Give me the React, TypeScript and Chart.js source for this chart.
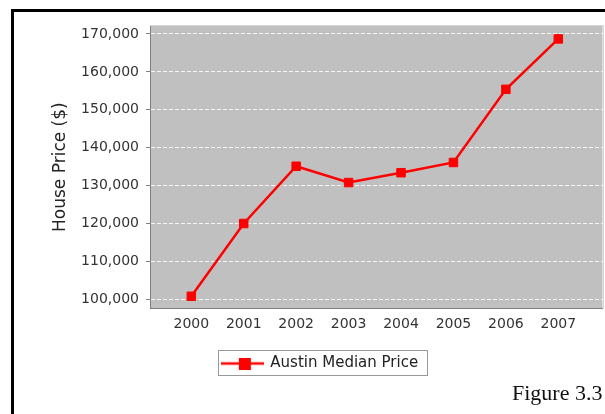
import React, { useEffect, useRef } from "react";
import { Chart, registerables } from "chart.js";

Chart.register(...registerables);

// ---- data ----
const years: number[] = [2000, 2001, 2002, 2003, 2004, 2005, 2006, 2007];
const prices: number[] = [100800, 120000, 135100, 130800, 133400, 136100, 155400, 168700];
const yTickValues: number[] = [100000, 110000, 120000, 130000, 140000, 150000, 160000, 170000];
const seriesLabel = "Austin Median Price";
const yAxisTitle = "House Price ($)";
const figureCaption = "Figure 3.3";

// axis ranges
const yMin = 97625;
const yMax = 172110;
const xMin = 1999.212;
const xMax = 2007.843;

const FONT = "'DejaVu Sans', sans-serif";

export default function App() {
  const canvasRef = useRef<HTMLCanvasElement | null>(null);

  useEffect(() => {
    const canvas = canvasRef.current;
    if (!canvas) return;

    // legend symbol: line with a square marker
    const sym = document.createElement("canvas");
    sym.width = 43;
    sym.height = 12;
    const sctx = sym.getContext("2d")!;
    sctx.strokeStyle = "#ff0000";
    sctx.lineWidth = 2.5;
    sctx.beginPath();
    sctx.moveTo(0, 6);
    sctx.lineTo(43, 6);
    sctx.stroke();
    sctx.fillStyle = "#ff0000";
    sctx.fillRect(18, 0, 12, 12);

    const plotBg = {
      id: "plotBg",
      beforeDraw(chart: any) {
        const { ctx, chartArea: a } = chart;
        ctx.save();
        ctx.fillStyle = "#c0c0c0";
        ctx.fillRect(a.left, a.top, a.right - a.left, a.bottom - a.top);
        ctx.restore();
      },
      afterDraw(chart: any) {
        const { ctx, chartArea: a } = chart;
        ctx.save();
        ctx.strokeStyle = "#d6d6d6";
        ctx.lineWidth = 1;
        ctx.beginPath();
        ctx.moveTo(a.left, Math.round(a.top) - 0.5);
        ctx.lineTo(Math.round(a.right) + 0.5, Math.round(a.top) - 0.5);
        ctx.lineTo(Math.round(a.right) + 0.5, a.bottom);
        ctx.stroke();
        ctx.restore();
      },
    };

    const legendBox = {
      id: "legendBox",
      afterDraw(chart: any) {
        const lg = chart.legend;
        if (!lg || !lg.legendHitBoxes || !lg.legendHitBoxes.length) return;
        const hb = lg.legendHitBoxes[0];
        const { ctx } = chart;
        const x0 = Math.round(hb.left - 3.5) + 0.5;
        const x1 = Math.round(hb.left + hb.width + 8.5) + 0.5;
        const y0 = Math.round(hb.top - 6) + 0.5;
        const y1 = Math.round(hb.top + hb.height + 4) + 0.5;
        ctx.save();
        ctx.strokeStyle = "#999999";
        ctx.lineWidth = 1;
        ctx.strokeRect(x0, y0, x1 - x0, y1 - y0);
        ctx.restore();
      },
    };

    const chart = new Chart(canvas, {
      type: "line",
      data: {
        datasets: [
          {
            label: seriesLabel,
            data: years.map((yr, i) => ({ x: yr, y: prices[i] })),
            borderColor: "#ff0000",
            backgroundColor: "#ff0000",
            borderWidth: 2.5,
            pointStyle: "rect",
            pointRadius: 6,
            pointBorderWidth: 1,
            pointBackgroundColor: "#ff0000",
            pointBorderColor: "#ff0000",
            tension: 0,
            fill: false,
            clip: false,
          },
        ],
      },
      options: {
        responsive: false,
        animation: false,
        devicePixelRatio: 1,
        layout: {
          autoPadding: false,
          padding: { left: 37.5, right: 2.5, top: 26, bottom: 33 },
        },
        plugins: {
          tooltip: { enabled: false },
          title: { display: false },
          legend: {
            display: true,
            position: "bottom",
            labels: {
              usePointStyle: true,
              pointStyleWidth: 41,
              color: "#222222",
              font: { family: FONT, size: 15 },
              generateLabels: (ch: any) =>
                ch.data.datasets.map((ds: any, i: number) => ({
                  text: ds.label,
                  pointStyle: sym,
                  fillStyle: "#ff0000",
                  strokeStyle: "#ff0000",
                  lineWidth: 0,
                  hidden: false,
                  datasetIndex: i,
                  fontColor: "#222222",
                })),
            },
          },
        },
        scales: {
          x: {
            type: "linear",
            min: xMin,
            max: xMax,
            afterFit: (s: any) => {
              s.height = 37.7;
              s.paddingLeft = 0;
              s.paddingRight = 0;
            },
            afterBuildTicks: (s: any) => {
              s.ticks = years.map((v) => ({ value: v }));
            },
            grid: { display: false, drawTicks: false },
            border: { display: true, color: "#808080", width: 1 },
            ticks: {
              autoSkip: false,
              maxRotation: 0,
              padding: 8,
              color: "#333333",
              font: { family: FONT, size: 14 },
              callback: (v: any) => String(v),
            },
          },
          y: {
            type: "linear",
            min: yMin,
            max: yMax,
            afterFit: (s: any) => {
              s.width = 112.5;
              s.paddingTop = 0;
              s.paddingBottom = 0;
            },
            afterBuildTicks: (s: any) => {
              s.ticks = yTickValues.map((v) => ({ value: v }));
            },
            title: {
              display: true,
              text: yAxisTitle,
              color: "#222222",
              font: { family: FONT, size: 17, lineHeight: 1 },
              padding: { top: 14.7, bottom: 0 },
            },
            grid: {
              color: "rgba(255,255,255,0.85)",
              lineWidth: 1,
              drawTicks: true,
              tickLength: 4,
              tickColor: "#808080",
              tickBorderDash: [],
            },
            border: { display: true, color: "#808080", width: 1, dash: [4, 2] },
            ticks: {
              autoSkip: false,
              padding: 7,
              color: "#333333",
              font: { family: FONT, size: 14 },
              callback: (v: any) => Number(v).toLocaleString("en-US"),
            },
          },
        },
      },
      plugins: [plotBg, legendBox],
    } as any);

    return () => chart.destroy();
  }, []);

  return (
    <div
      style={{
        position: "fixed",
        left: 0,
        top: 0,
        width: 605,
        height: 414,
        background: "#ffffff",
        overflow: "hidden",
      }}
    >
      <div
        style={{
          position: "absolute",
          left: 11,
          top: 9,
          width: 594,
          height: 405,
          borderLeft: "3px solid #000",
          borderTop: "3px solid #000",
          boxSizing: "border-box",
        }}
      />
      <canvas
        ref={canvasRef}
        width={605}
        height={414}
        style={{ position: "absolute", left: 0, top: 0, width: 605, height: 414 }}
      />
      <div
        style={{
          position: "absolute",
          left: 512,
          top: 382,
          fontFamily: "'Liberation Serif', serif",
          fontSize: 22,
          lineHeight: 1,
          color: "#111",
          whiteSpace: "nowrap",
        }}
      >
        {figureCaption}
      </div>
    </div>
  );
}
